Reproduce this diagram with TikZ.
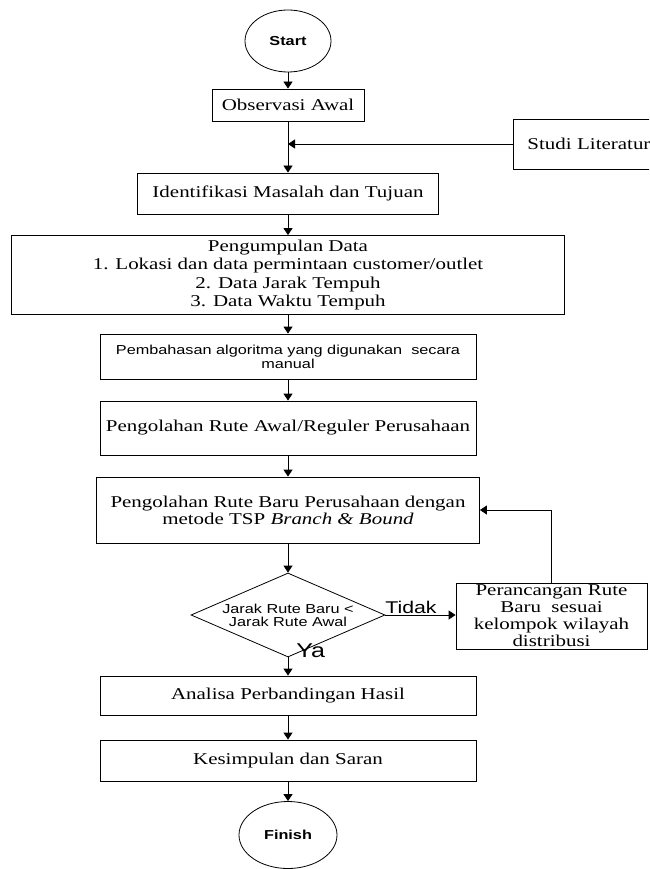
\documentclass[tikz,border=0pt]{standalone}
\usepackage{fontspec}
\setmainfont{Liberation Serif}[FakeStretch=1.27,
    ItalicFont=Liberation Serif Italic, BoldFont=Liberation Serif Bold]
\newfontfamily\arialfont{Liberation Sans}[FakeStretch=1.25,
    BoldFont=Liberation Sans Bold]
\newfontfamily\timesitalic{Liberation Serif Italic}[FakeStretch=1.27]
\usetikzlibrary{shapes.geometric,arrows.meta}

\begin{document}
\begin{tikzpicture}[
        x=1pt, y=-1pt,
        line width=0.8pt,
        flow/.style={-{Triangle[length=7pt,width=9pt]}},
        every node/.style={draw, inner sep=0pt, align=center},
        procbox/.style={rectangle, font=\fontsize{16.5}{18.5}\selectfont},
        sansbox/.style={rectangle, font=\arialfont\fontsize{13}{14}\selectfont},
        term/.style={ellipse, font=\arialfont\bfseries\fontsize{13}{15}\selectfont},
        decision/.style={diamond, aspect=2.3, font=\arialfont\fontsize{13}{13}\selectfont},
        branchtext/.style={draw=none, font=\arialfont\fontsize{17}{17}\selectfont}
    ]
    \clip (0,0) rectangle (649,869);

    % Terminal and process steps
    \node[term, minimum width=86pt, minimum height=62pt] (start) at (288,41) {Start};
    \node[procbox, minimum width=152pt, minimum height=32pt] (obs) at (288,105) {Observasi Awal};
    \node[procbox, anchor=west, text width=180pt, align=left, inner xsep=14pt,
          minimum height=50pt] (studi) at (513,144) {Studi Literatur};
    \node[procbox, minimum width=301pt, minimum height=41pt] (ident) at (288,193.5) {Identifikasi Masalah dan Tujuan};
    \node[procbox, minimum width=553pt, minimum height=79pt] (data) at (288,275)
        {Pengumpulan Data\\1. Lokasi dan data permintaan customer/outlet\\2. Data Jarak Tempuh\\3. Data Waktu Tempuh};
    \node[sansbox, minimum width=376pt, minimum height=45pt] (bahas) at (288,356.5)
        {Pembahasan algoritma yang digunakan\ \ secara\\manual};
    \node[procbox, minimum width=376pt, minimum height=54pt] (awal) at (288,428) {Pengolahan Rute Awal/Reguler Perusahaan};
    \node[procbox, minimum width=383pt, minimum height=66pt, font=\fontsize{16.5}{17}\selectfont] (baru) at (288,510)
        {Pengolahan Rute Baru Perusahaan dengan\\metode TSP {\timesitalic Branch \& Bound}};
    \node[decision, minimum width=194pt, minimum height=84pt] (dec) at (288,615) {Jarak Rute Baru <\\Jarak Rute Awal};
    \node[procbox, minimum width=191pt, minimum height=66pt, font=\fontsize{16.5}{17}\selectfont] (rancang) at (551.5,616)
        {Perancangan Rute\\Baru\ \ sesuai\\kelompok wilayah\\distribusi};
    \node[procbox, minimum width=376pt, minimum height=39pt] (analisa) at (288,695.5) {Analisa Perbandingan Hasil};
    \node[procbox, minimum width=376pt, minimum height=41pt] (simpul) at (288,760.5) {Kesimpulan dan Saran};
    \node[term, minimum width=98pt, minimum height=67pt] (finish) at (288,835) {Finish};

    % Connectors
    \coordinate (join) at (288,144);
    \draw[flow] (start) -- (obs);
    \draw[flow] (obs) -- (ident);
    \draw[flow] (studi.west) -- (join);
    \draw[flow] (ident) -- (data);
    \draw[flow] (data) -- (bahas);
    \draw[flow] (bahas) -- (awal);
    \draw[flow] (awal) -- (baru);
    \draw[flow] (baru) -- (dec);
    \draw[flow] (dec) -- (analisa);
    \draw[flow] (dec.east) -- (dec.east -| rancang.west);
    \draw[flow] (rancang.north) |- (baru.east);
    \draw[flow] (analisa) -- (simpul);
    \draw[flow] (simpul) -- (finish);

    % Branch labels
    \node[branchtext, anchor=base west] (tidak) at (385,613) {Tidak};
    \node[branchtext, anchor=base west, font=\arialfont\fontsize{20}{20}\selectfont] (ya) at (296,657) {Ya};
\end{tikzpicture}
\end{document}
